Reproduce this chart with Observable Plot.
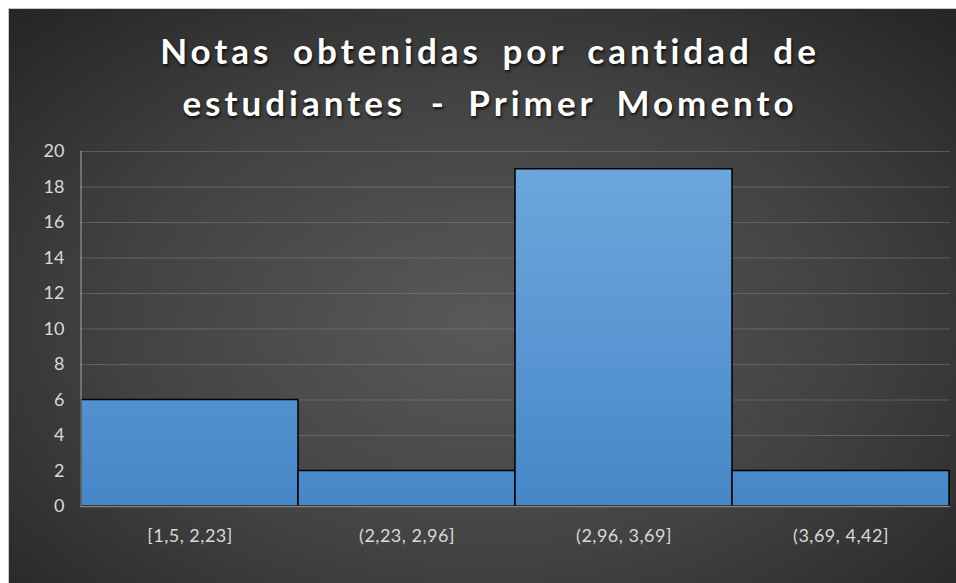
<!DOCTYPE html>
<html>
<head>
<meta charset="utf-8">
<script src="https://cdn.jsdelivr.net/npm/d3@7"></script>
<script src="https://cdn.jsdelivr.net/npm/@observablehq/plot@0.6"></script>
<style>
  html, body { margin: 0; padding: 0; background: #ffffff; width: 956px; height: 583px; overflow: hidden; }
  #panel {
    position: absolute; left: 8px; top: 8px; width: 948px; height: 575px;
    background: radial-gradient(ellipse 70% 75% at 50% 55%, #595959 0%, #424242 55%, #262626 100%);
    border-top: 1px solid #c8c8c8; border-left: 1px solid #c8c8c8; box-sizing: border-box;
  }
  #title {
    position: absolute; left: 0; top: 15px; width: 962px; text-align: center;
    font-family: Lato, "Open Sans", sans-serif; font-weight: bold; font-size: 35px;
    line-height: 52px; letter-spacing: 4px; word-spacing: 8px; color: #ffffff;
    text-shadow: 1px 2px 3px rgba(0,0,0,0.8);
  }
  #chart { position: absolute; left: -1px; top: 121px; }
</style>
</head>
<body>
<div id="panel">
  <div id="title">Notas obtenidas por cantidad de<br>estudiantes <span style="margin-left:4px">-</span> Primer Momento</div>
  <div id="chart"></div>
</div>
<script>
const categories = ["[1,5, 2,23]", "(2,23, 2,96]", "(2,96, 3,69]", "(3,69, 4,42]"];
const values = [6, 2, 19, 2];
const yTicks = [0, 2, 4, 6, 8, 10, 12, 14, 16, 18, 20];

const data = categories.map((c, i) => ({category: c, value: values[i]}));

const chart = Plot.plot({
  width: 948,
  height: 453,
  marginLeft: 72,
  marginRight: 6,
  marginTop: 21,
  marginBottom: 77,
  style: {background: "transparent", color: "#d9d9d9", fontFamily: "Lato, 'Open Sans', sans-serif", fontSize: "18px", overflow: "visible"},
  x: {domain: categories, padding: 0, label: null, tickSize: 0, tickPadding: 23},
  y: {domain: [0, 20], ticks: yTicks, label: null, tickSize: 0, tickPadding: 16, grid: false},
  marks: [
    Plot.gridY(yTicks.filter(d => d > 0), {stroke: "#8a8a8a", strokeOpacity: 0.45, strokeWidth: 1}),
    Plot.barY(data, {x: "category", y: "value", fill: "url(#barGrad)", stroke: "#000000", strokeWidth: 1.5, inset: 0}),
    Plot.ruleX([0], {x: () => categories[0], y1: 0, y2: 20, dx: -109, stroke: "#a6a6a6", strokeWidth: 1}),
    Plot.ruleY([0], {stroke: "#8c8276", strokeWidth: 1.5})
  ]
});

const defs = d3.select(chart).insert("defs", ":first-child");
const grad = defs.append("linearGradient")
  .attr("id", "barGrad").attr("gradientUnits", "userSpaceOnUse")
  .attr("x1", 0).attr("x2", 0).attr("y1", 21).attr("y2", 376);
grad.append("stop").attr("offset", "0%").attr("stop-color", "#70a8df");
grad.append("stop").attr("offset", "100%").attr("stop-color", "#4687c8");

d3.select(chart).selectAll("text").style("fill", "#d9d9d9");
d3.select(chart).selectAll("g[aria-label='x-axis tick label'] text").style("letter-spacing", "0.5px");
document.getElementById("chart").appendChild(chart);
</script>
</body>
</html>
